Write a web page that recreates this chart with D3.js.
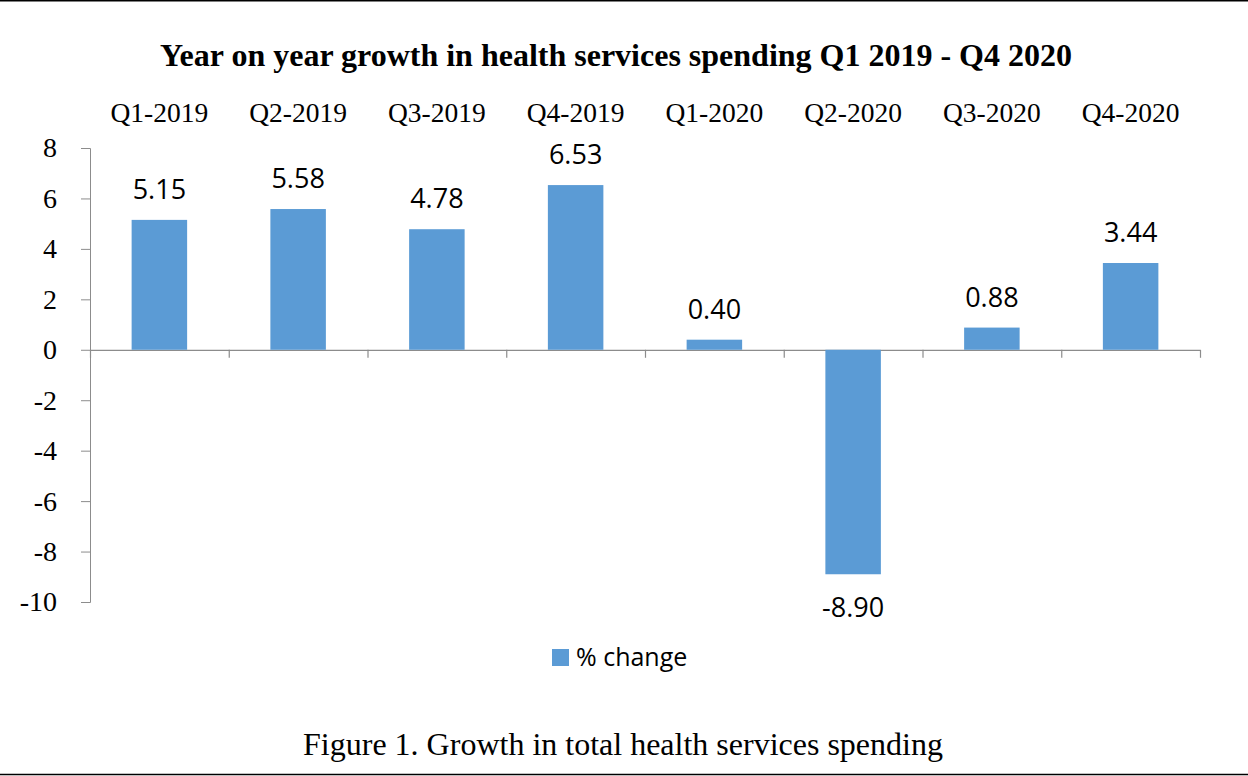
<!DOCTYPE html>
<html>
<head>
<meta charset="utf-8">
<script src="https://d3js.org/d3.v7.min.js"></script>
<style>
    body { margin: 0; background: #fff; }
    svg { display: block; }
</style>
</head>
<body>
<svg id="chart"></svg>
<script>
    // data
    const quarters = ["Q1-2019", "Q2-2019", "Q3-2019", "Q4-2019", "Q1-2020", "Q2-2020", "Q3-2020", "Q4-2020"];
    const pctChange = [5.15, 5.58, 4.78, 6.53, 0.40, -8.90, 0.88, 3.44];
    const yTicks = [8, 6, 4, 2, 0, -2, -4, -6, -8, -10];

    const width = 1248, height = 776;
    const svg = d3.select("#chart").attr("width", width).attr("height", height);

    const serif = "'Liberation Serif', 'Times New Roman', serif";
    const sans = "'Open Sans', 'Noto Sans', sans-serif";
    const barColor = "#5b9bd5";
    const axisColor = "#8c8c8c";

    // frame lines top and bottom
    svg.append("line").attr("x1", 0).attr("x2", width).attr("y1", 0.75).attr("y2", 0.75)
        .attr("stroke", "#000").attr("stroke-width", 1.5);
    svg.append("line").attr("x1", 0).attr("x2", width).attr("y1", 774.5).attr("y2", 774.5)
        .attr("stroke", "#000").attr("stroke-width", 1.5);

    // scales
    const x = d3.scaleBand().domain(quarters).range([90, 1200]).paddingInner(0.6).paddingOuter(0.3);
    const y = d3.scaleLinear().domain([-10, 8]).range([602, 148]);

    // title
    svg.append("text")
        .attr("x", 616).attr("y", 66)
        .attr("text-anchor", "middle")
        .style("font-family", serif).style("font-weight", "bold").style("font-size", "32px")
        .text("Year on year growth in health services spending Q1 2019 - Q4 2020");

    // category labels along the top
    svg.append("g").selectAll("text")
        .data(quarters)
        .enter().append("text")
            .attr("x", d => x(d) + x.bandwidth() / 2)
            .attr("y", 122)
            .attr("text-anchor", "middle")
            .style("font-family", serif).style("font-size", "27.5px")
            .text(d => d);

    // y axis
    const yAxis = d3.axisLeft(y).tickValues(yTicks).tickSize(9).tickPadding(24);
    const gy = svg.append("g").attr("transform", "translate(90,0)").call(yAxis);
    gy.select(".domain").attr("stroke", axisColor).attr("d", "M-9,148.5H0.5V602.5H-9");
    gy.selectAll(".tick line").attr("stroke", axisColor);
    gy.selectAll(".tick text")
        .style("font-family", serif).style("font-size", "28px").attr("fill", "#000")
        .text(d => d < 0 ? "-" + Math.abs(d) : d);

    // x axis at zero with category separators
    const step = (1200 - 90) / quarters.length;
    svg.append("line")
        .attr("x1", 90).attr("x2", 1200)
        .attr("y1", y(0) + 0.5).attr("y2", y(0) + 0.5)
        .attr("stroke", axisColor).attr("stroke-width", 1.2);
    svg.append("g").selectAll("line")
        .data(d3.range(quarters.length + 1))
        .enter().append("line")
            .attr("x1", i => 90.5 + i * step).attr("x2", i => 90.5 + i * step)
            .attr("y1", y(0)).attr("y2", y(0) + 8)
            .attr("stroke", axisColor).attr("stroke-width", 1.2);

    // bars
    svg.append("g").selectAll("rect")
        .data(pctChange)
        .enter().append("rect")
            .attr("x", (d, i) => x(quarters[i]))
            .attr("width", x.bandwidth())
            .attr("y", d => y(Math.max(0, d)))
            .attr("height", d => Math.abs(y(d) - y(0)))
            .attr("fill", barColor);

    // value labels
    svg.append("g").selectAll("text")
        .data(pctChange)
        .enter().append("text")
            .attr("x", (d, i) => x(quarters[i]) + x.bandwidth() / 2)
            .attr("y", d => d >= 0 ? y(d) - 21 : y(d) + 43)
            .attr("text-anchor", "middle")
            .style("font-family", sans).style("font-size", "27px")
            .text(d => d3.format(".2f")(d).replace("−", "-"));

    // legend
    svg.append("rect").attr("x", 552).attr("y", 649).attr("width", 17).attr("height", 17).attr("fill", barColor);
    svg.append("text")
        .attr("x", 576).attr("y", 666)
        .style("font-family", sans).style("font-size", "25px")
        .text("% change");

    // caption
    svg.append("text")
        .attr("x", 623).attr("y", 755)
        .attr("text-anchor", "middle")
        .style("font-family", serif).style("font-size", "32px")
        .text("Figure 1. Growth in total health services spending");
</script>
</body>
</html>
